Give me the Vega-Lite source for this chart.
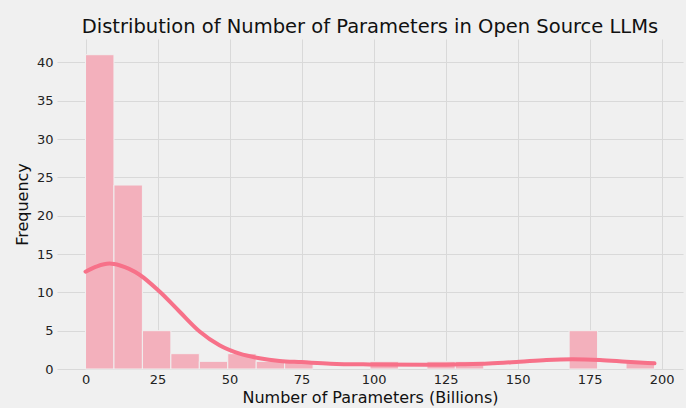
{
  "$schema": "https://vega.github.io/schema/vega-lite/v6.json",
  "width": 626,
  "height": 330,
  "autosize": {"type": "none"},
  "padding": {"left": 57, "top": 39, "right": 3, "bottom": 39},
  "background": "#f0f0f0",
  "title": {
    "text": "Distribution of Number of Parameters in Open Source LLMs",
    "font": "DejaVu Sans",
    "fontSize": 19.5,
    "fontWeight": "normal",
    "color": "#111111",
    "anchor": "middle",
    "offset": 2
  },
  "config": {
    "view": {"fill": "#f0f0f0", "stroke": null},
    "axis": {
      "labelFont": "DejaVu Sans",
      "titleFont": "DejaVu Sans",
      "labelFontSize": 13,
      "titleFontSize": 16,
      "titleFontWeight": "normal",
      "labelColor": "#222222",
      "titleColor": "#111111",
      "gridColor": "#d9d9d9",
      "gridWidth": 1,
      "domain": false,
      "ticks": false
    }
  },
  "datasets": {
    "bins": [
      {"start": 0, "end": 9.875, "count": 41},
      {"start": 9.875, "end": 19.75, "count": 24},
      {"start": 19.75, "end": 29.625, "count": 5},
      {"start": 29.625, "end": 39.5, "count": 2},
      {"start": 39.5, "end": 49.375, "count": 1},
      {"start": 49.375, "end": 59.25, "count": 2},
      {"start": 59.25, "end": 69.125, "count": 1},
      {"start": 69.125, "end": 79, "count": 1},
      {"start": 98.75, "end": 108.625, "count": 1},
      {"start": 118.5, "end": 128.375, "count": 1},
      {"start": 128.375, "end": 138.25, "count": 1},
      {"start": 167.875, "end": 177.75, "count": 5},
      {"start": 187.625, "end": 197.5, "count": 1}
    ],
    "kde": [
      {"x": 0, "y": 12.7},
      {"x": 4, "y": 13.4},
      {"x": 8.3, "y": 13.75},
      {"x": 12, "y": 13.5},
      {"x": 18.75, "y": 12.3},
      {"x": 25.7, "y": 10.1},
      {"x": 32.6, "y": 7.5},
      {"x": 39.6, "y": 4.9},
      {"x": 46.5, "y": 3.1},
      {"x": 53.5, "y": 2.0},
      {"x": 60.4, "y": 1.4},
      {"x": 67.4, "y": 1.05},
      {"x": 75, "y": 0.9},
      {"x": 85, "y": 0.7},
      {"x": 98.6, "y": 0.6},
      {"x": 119, "y": 0.55},
      {"x": 130, "y": 0.62},
      {"x": 140, "y": 0.72},
      {"x": 150.7, "y": 0.95},
      {"x": 160, "y": 1.17},
      {"x": 169, "y": 1.26},
      {"x": 178.5, "y": 1.17},
      {"x": 187.8, "y": 0.95},
      {"x": 197.5, "y": 0.74}
    ]
  },
  "layer": [
    {
      "data": {"name": "bins"},
      "mark": {"type": "rect", "color": "#f3b0bc", "stroke": "#f0f0f0", "strokeWidth": 1},
      "encoding": {
        "x": {
          "field": "start",
          "type": "quantitative",
          "scale": {"domain": [-9.9, 207.4], "nice": false, "zero": false},
          "axis": {"values": [0, 25, 50, 75, 100, 125, 150, 175, 200], "title": "Number of Parameters (Billions)", "labelPadding": 4, "titlePadding": 3}
        },
        "x2": {"field": "end"},
        "y": {
          "field": "count",
          "type": "quantitative",
          "scale": {"domain": [0, 43.05], "nice": false},
          "axis": {"values": [0, 5, 10, 15, 20, 25, 30, 35, 40], "title": "Frequency", "labelPadding": 4, "titlePadding": 6}
        },
        "y2": {"datum": 0}
      }
    },
    {
      "data": {"name": "kde"},
      "mark": {"type": "line", "color": "#f77189", "strokeWidth": 4, "interpolate": "monotone", "strokeCap": "round"},
      "encoding": {
        "x": {"field": "x", "type": "quantitative"},
        "y": {"field": "y", "type": "quantitative"}
      }
    }
  ]
}
